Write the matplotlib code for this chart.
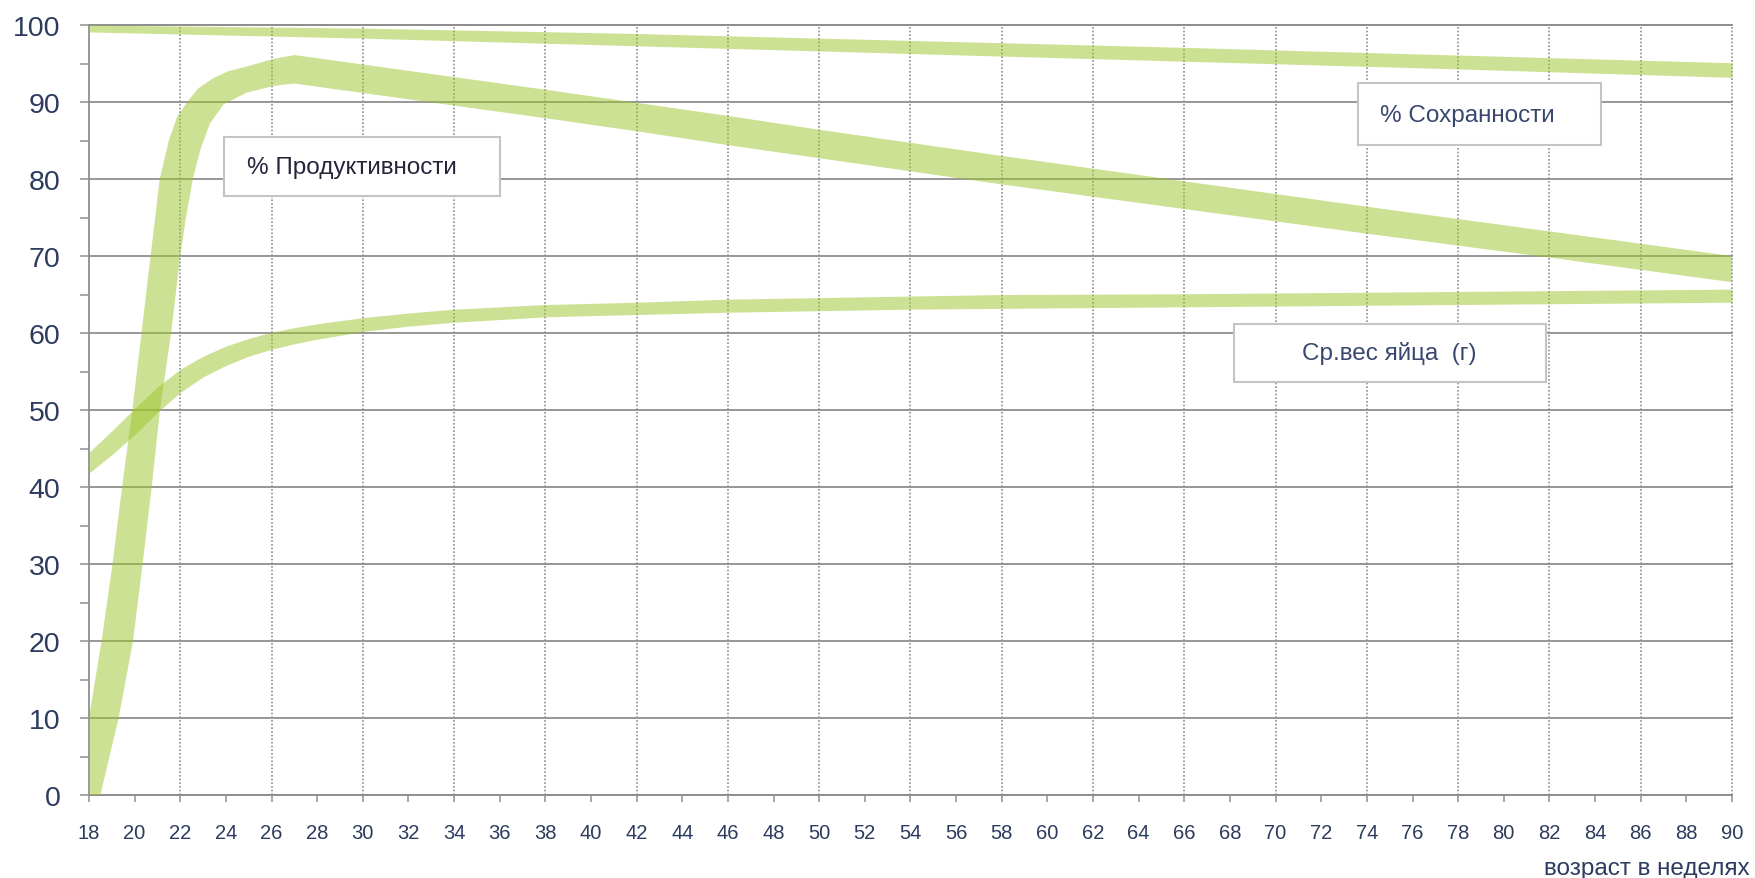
import numpy as np
import matplotlib
matplotlib.use('Agg')
from matplotlib import pyplot as plt
from matplotlib.ticker import MultipleLocator, FixedLocator
from matplotlib.patches import Rectangle

plt.rcParams['font.family'] = ['Liberation Sans', 'DejaVu Sans']

# % Сохранности: upper and lower edge of the band
surv_weeks = [18, 30, 42, 54, 66, 78, 90]
surv_hi = [100.0, 99.6, 98.9, 98.0, 97.1, 96.1, 95.1]
surv_lo = [99.1, 98.3, 97.3, 96.3, 95.3, 94.3, 93.2]

# % Продуктивности: upper (left) edge and lower (right) edge
prod_hi_weeks = [18, 18.55, 19.03, 19.45, 19.9, 20.3, 20.7, 21.1, 21.5, 21.85, 22.3, 22.8, 23.45,
                 24.1, 24.9, 26.1, 27.0, 38, 42, 46, 50, 54, 58, 66, 74, 82, 90]
prod_hi = [10, 20, 30, 40, 50, 60, 70, 80, 85, 88, 90, 91.8, 93.1,
           94.0, 94.6, 95.6, 96.1, 91.6, 89.9, 88.2, 86.4, 84.7, 83.0, 79.7, 76.4, 73.2, 70.0]
prod_lo_weeks = [18, 18.5, 19.3, 19.93, 20.35, 20.75, 21.11, 21.6, 22.0, 22.25, 22.55, 22.9, 23.3,
                 23.9, 24.9, 26.1, 27.0, 38, 42, 46, 50, 54, 58, 66, 74, 82, 90]
prod_lo = [0, 0, 10, 20, 30, 40, 50, 60, 70, 75, 80, 84, 87.2,
           89.7, 91.2, 92.1, 92.4, 87.9, 86.2, 84.4, 82.7, 81.0, 79.3, 76.1, 72.9, 69.8, 66.6]

# Ср.вес яйца (г)
egg_weeks = [18, 19, 20, 21, 22, 23, 24, 25, 26, 27, 28, 30, 32, 34, 38, 42, 46, 50, 54, 58, 66, 74, 82, 90]
egg_hi = [44.5, 47.3, 50.2, 53.0, 55.3, 57.0, 58.3, 59.3, 60.1, 60.7, 61.2, 62.0, 62.6, 63.1,
          63.7, 64.0, 64.4, 64.6, 64.8, 65.0, 65.1, 65.3, 65.5, 65.7]
egg_lo = [41.8, 44.2, 46.8, 49.7, 52.3, 54.3, 55.8, 57.0, 57.9, 58.6, 59.2, 60.2, 60.9, 61.4,
          62.1, 62.4, 62.7, 62.9, 63.1, 63.2, 63.4, 63.6, 63.8, 64.0]

labels = ['% Продуктивности', '% Сохранности', 'Ср.вес яйца  (г)']
xlabel = 'возраст в неделях'

band_col = '#9bc52b'
grid_col = '#8f8f8f'
txt_col = '#2d3b5e'

fig = plt.figure(figsize=(17.55, 8.79), dpi=100)
ax = fig.add_axes([0.0507, 0.0944, 0.9362, 0.8760])
ax.set_xlim(18, 90)
ax.set_ylim(0, 100)

# bands
ax.fill_between(surv_weeks, surv_lo, surv_hi, color=band_col, alpha=0.5, lw=0, zorder=3)
ax.fill(prod_hi_weeks + prod_lo_weeks[::-1], prod_hi + prod_lo[::-1],
        color=band_col, alpha=0.5, lw=0, zorder=3)
ax.fill_between(egg_weeks, egg_lo, egg_hi, color=band_col, alpha=0.5, lw=0, zorder=3)

# axes / ticks
ax.yaxis.set_major_locator(MultipleLocator(10))
ax.yaxis.set_minor_locator(MultipleLocator(5))
ax.xaxis.set_major_locator(MultipleLocator(2))
ax.xaxis.set_minor_locator(FixedLocator(np.arange(22, 91, 4)))
ax.xaxis.remove_overlapping_locs = False

ax.tick_params(axis='y', which='both', direction='out', length=6.5, width=1.1,
               color=grid_col, labelsize=20.5, labelcolor=txt_col, pad=14)
ax.tick_params(axis='x', which='major', direction='out', length=5, width=1.1,
               color=grid_col, labelsize=14.5, labelcolor=txt_col, pad=15)
ax.tick_params(axis='x', which='minor', length=0)

ax.grid(axis='y', which='major', color=grid_col, lw=1.3, clip_on=False)
ax.grid(axis='x', which='minor', color=grid_col, lw=1.2, ls=(0, (1, 1.2)), clip_on=False)
ax.set_axisbelow(True)

for side in ['left', 'bottom', 'top']:
    ax.spines[side].set_color(grid_col)
    ax.spines[side].set_linewidth(1.3)
ax.spines['right'].set_visible(False)

# label boxes (figure coordinates)
boxes = [(0.1276, 0.7759, 0.1573, 0.0671), (0.7738, 0.8339, 0.1385, 0.0705),
         (0.7031, 0.5643, 0.1778, 0.0660)]
for x0, y0, w, h in boxes:
    fig.patches.append(Rectangle((x0, y0), w, h, transform=fig.transFigure,
                                 facecolor='white', edgecolor='#c4c4c4', lw=1.5, zorder=5))
fig.text(0.1407, 0.8089, labels[0], fontsize=17.5, color='#26243a', va='center', ha='left', zorder=6)
fig.text(0.7863, 0.8680, labels[1], fontsize=17.5, color='#3a4870', va='center', ha='left', zorder=6)
fig.text(0.7918, 0.5973, labels[2], fontsize=17.5, color='#3a4870', va='center', ha='center', zorder=6)

fig.text(0.997, 0.0115, xlabel, fontsize=17.5, color=txt_col, ha='right', va='center')

fig.savefig('out.png', dpi=100)
